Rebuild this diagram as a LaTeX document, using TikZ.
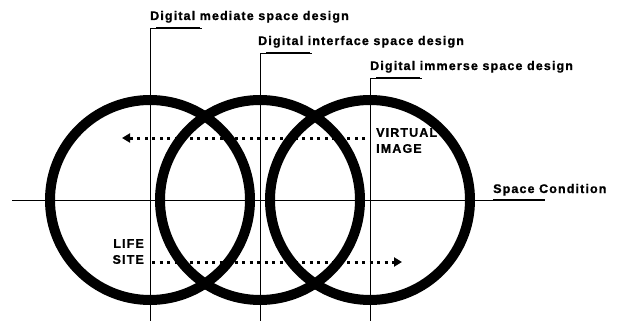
\documentclass[tikz,border=0pt]{standalone}
\usepackage{fontspec}
\setmainfont{Liberation Sans}
\newfontfamily\lblfont{Liberation Sans}[LetterSpace=9,BoldFeatures={FakeBold=1}]
\usetikzlibrary{arrows.meta,positioning,calc}

\begin{document}
\begin{tikzpicture}[
x=1pt,y=-1pt,
every node/.style={
inner sep=0pt,
font=\lblfont\bfseries\fontsize{12.5}{16}\selectfont
},
ring/.style={circle,draw,line width=10pt,minimum size=200pt},
axis/.style={line width=0.7pt},
under/.style={line width=2.6pt},
flow/.style={line width=3pt,dash pattern=on 3pt off 4.5pt,
-{Triangle[length=8pt,width=9pt]}},
txt/.style={anchor=base west}
]
\useasboundingbox (0,0) rectangle (619,321);

% the three design zones
\node[ring] (C1) at (150,200) {};
\node[ring] (C2) at (260,200) {};
\node[ring] (C3) at (370,200) {};

% vertical axes with their labels
\coordinate (T1) at (150,28);
\coordinate (T2) at (260,53);
\coordinate (T3) at (370,78);
\coordinate (B1) at (150,321);
\coordinate (B2) at (260,321);
\coordinate (B3) at (370,321);
\foreach \i in {1,2,3}{
\draw[axis] (B\i) -- (T\i) -- ++(52,0);
\draw[under] ($(T\i)+(6,0)$) -- ++(44,0);
}
\node[txt] (D1) at ($(T1)+(0,-8)$) {Digital mediate space design};
\node[txt] (D2) at ($(T2)+(-2,-8)$) {Digital interface space design};
\node[txt] (D3) at ($(T3)+(0,-8)$) {Digital immerse space design};

% space condition axis
\coordinate (H0) at (12,200);
\coordinate (H1) at (493,200);
\coordinate (H2) at (545,200);
\draw[axis] (H0) -- (H2);
\draw[under] (H1) -- (H2);
\node[txt] (SC) at ($(H1)+(0,-7)$) {Space Condition};

% virtual image / life site
\node[align=left,anchor=north west] (VI) at (376,128) {VIRTUAL\\IMAGE};
\node[align=right,anchor=north east] (LS) at (144,239) {LIFE\\SITE};
\coordinate (VA) at (365,138);
\coordinate (VB) at (122,138);
\coordinate (LA) at (152,262);
\coordinate (LB) at (402,262);
\draw[flow] (VA) -- (VB);
\draw[flow] (LA) -- (LB);
\end{tikzpicture}
\end{document}
